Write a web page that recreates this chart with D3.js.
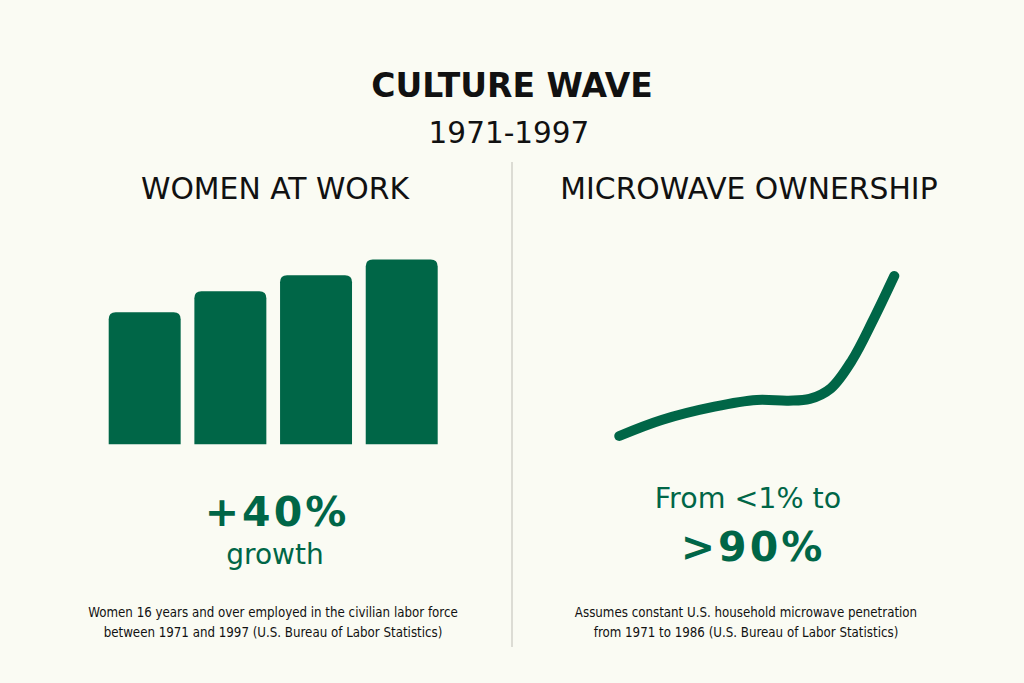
<!DOCTYPE html>
<html><head><meta charset="utf-8">
<script src="https://cdn.jsdelivr.net/npm/d3@7"></script>
<style>
html,body{margin:0;padding:0;background:#fafbf3;}
svg{display:block;}
</style></head>
<body>
<script>
// Data
const barCategories = ["1971", "1980", "1989", "1997"];
const barValues = [50, 58, 64, 70];
const lineYears = [1971, 1975, 1980, 1984, 1987, 1989, 1991, 1993, 1995, 1997];
const lineValues = [1, 9.9, 17.3, 21, 20.6, 21.6, 27.5, 43, 65.4, 89.9];

const W = 1024, H = 683;
const green = "#006647";
const svg = d3.select("body").append("svg").attr("width", W).attr("height", H);
svg.append("rect").attr("width", W).attr("height", H).attr("fill", "#fafbf3");

const font = "'DejaVu Sans', Verdana, sans-serif";

// Titles
svg.append("text").attr("x", 512).attr("y", 97).attr("text-anchor", "middle")
  .attr("font-family", font).attr("font-weight", "bold").attr("font-size", 33)
  .attr("fill", "#111").text("CULTURE WAVE");
svg.append("text").attr("x", 509).attr("y", 143).attr("text-anchor", "middle")
  .attr("font-family", font).attr("font-size", 29.5)
  .attr("fill", "#111").text("1971-1997");

// Divider
svg.append("line").attr("x1", 512).attr("x2", 512).attr("y1", 162).attr("y2", 647)
  .attr("stroke", "#dcdcd4").attr("stroke-width", 2);

// Panel titles
svg.append("text").attr("x", 275).attr("y", 199).attr("text-anchor", "middle")
  .attr("font-family", font).attr("font-size", 29.8).attr("fill", "#111").text("WOMEN AT WORK");
svg.append("text").attr("x", 749).attr("y", 199).attr("text-anchor", "middle")
  .attr("font-family", font).attr("font-size", 29.8).attr("fill", "#111").text("MICROWAVE OWNERSHIP");

// Bars
const x = d3.scaleBand().domain(barCategories).range([108.7, 437.7]).paddingInner(0.16).paddingOuter(0);
const y = d3.scaleLinear().domain([0, 70]).range([444.3, 259.5]);
const r = 7;
function barPath(d, i) {
  const x0 = x(barCategories[i]), w = x.bandwidth();
  const y0 = y(d), yb = y(0);
  return `M${x0},${yb}V${y0 + r}Q${x0},${y0} ${x0 + r},${y0}H${x0 + w - r}Q${x0 + w},${y0} ${x0 + w},${y0 + r}V${yb}Z`;
}
svg.append("g").selectAll("path").data(barValues).join("path")
  .attr("d", barPath).attr("fill", green);

// Line
const lx = d3.scaleLinear().domain([1971, 1997]).range([619.3, 894.3]);
const ly = d3.scaleLinear().domain([0, 100]).range([437.8, 257.8]);
const line = d3.line().x((d, i) => lx(lineYears[i])).y(d => ly(d)).curve(d3.curveCatmullRom.alpha(0.5));
svg.append("path").attr("d", line(lineValues)).attr("fill", "none")
  .attr("stroke", green).attr("stroke-width", 10).attr("stroke-linecap", "round").attr("stroke-linejoin", "round");

// Big numbers
svg.append("text").attr("x", 277).attr("y", 526).attr("text-anchor", "middle")
  .attr("font-family", font).attr("font-weight", "bold").attr("font-size", 41).attr("letter-spacing", 3)
  .attr("fill", green).text("+40%");
svg.append("text").attr("x", 275).attr("y", 564).attr("text-anchor", "middle")
  .attr("font-family", font).attr("font-size", 28).attr("fill", green).text("growth");
svg.append("text").attr("x", 748).attr("y", 508).attr("text-anchor", "middle")
  .attr("font-family", font).attr("font-size", 28.5).attr("fill", green).text("From <1% to");
svg.append("text").attr("x", 753).attr("y", 561).attr("text-anchor", "middle")
  .attr("font-family", font).attr("font-weight", "bold").attr("font-size", 41).attr("letter-spacing", 3)
  .attr("fill", green).text(">90%");

// Footnotes
const fn = "'DejaVu Sans Condensed', 'DejaVu Sans', sans-serif";
const notes = [
  [273, ["Women 16 years and over employed in the civilian labor force", "between 1971 and 1997 (U.S. Bureau of Labor Statistics)"]],
  [746, ["Assumes constant U.S. household microwave penetration", "from 1971 to 1986 (U.S. Bureau of Labor Statistics)"]]
];
notes.forEach(([cx, lines]) => {
  lines.forEach((t, i) => {
    svg.append("text").attr("x", cx).attr("y", 617 + i * 20).attr("text-anchor", "middle")
      .attr("font-family", fn).attr("font-size", 13.2).attr("fill", "#111").text(t);
  });
});
</script>
</body></html>
